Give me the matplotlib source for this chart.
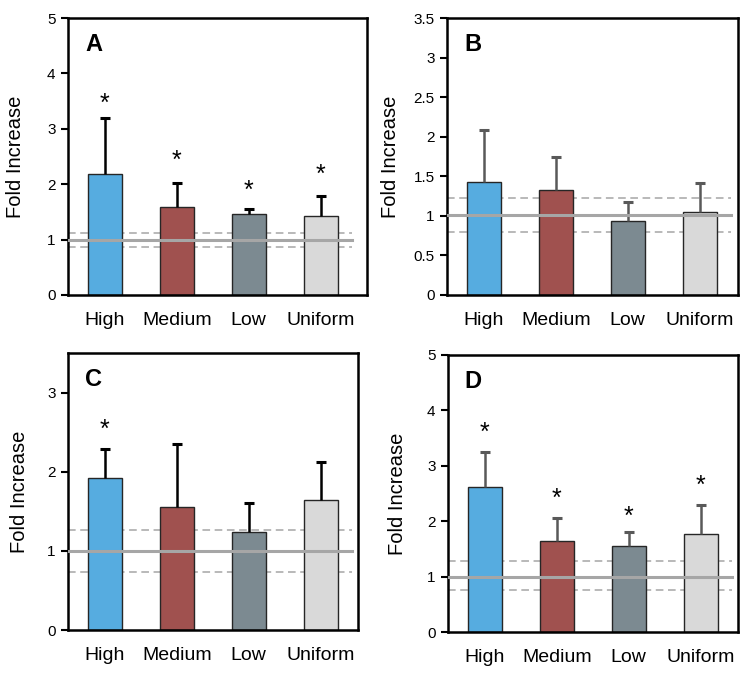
import matplotlib
matplotlib.use("Agg")
import matplotlib.pyplot as plt

plt.rcParams["font.family"] = ["Liberation Sans", "DejaVu Sans"]

categories = ["High", "Medium", "Low", "Uniform"]
colors = ["#56ace0", "#a0514f", "#7c8a91", "#d9d9d9"]

# fold increase means and upper error bar tops
means_a = [2.18, 1.58, 1.46, 1.43]
tops_a = [3.19, 2.02, 1.56, 1.79]
stars_a = [3.45, 2.43, 1.88, 2.16]

means_b = [1.43, 1.33, 0.94, 1.045]
tops_b = [2.09, 1.75, 1.17, 1.42]
stars_b = [None, None, None, None]

means_c = [1.92, 1.55, 1.24, 1.64]
tops_c = [2.29, 2.35, 1.61, 2.12]
stars_c = [2.53, None, None, None]

means_d = [2.62, 1.65, 1.56, 1.76]
tops_d = [3.25, 2.05, 1.80, 2.30]
stars_d = [3.59, 2.41, 2.08, 2.64]

# control level (solid) and its bounds (dashed)
control = {"A": (1.0, 0.86, 1.125), "B": (1.015, 0.79, 1.225),
           "C": (1.0, 0.735, 1.265), "D": (1.0, 0.75, 1.29)}

W, H = 751, 679
panels = [
    # letter, means, tops, stars, rect px (left, top, right, bottom), ymax, yticks, error colour, ylabel x
    ("A", means_a, tops_a, stars_a, (68, 18, 367, 295), 5, [0, 1, 2, 3, 4, 5], "#000000", -0.145),
    ("B", means_b, tops_b, stars_b, (447, 18, 738, 295), 3.5, [0, 0.5, 1, 1.5, 2, 2.5, 3, 3.5], "#595959", -0.16),
    ("C", means_c, tops_c, stars_c, (68, 353, 358, 630), 3.5, [0, 1, 2, 3], "#000000", -0.135),
    ("D", means_d, tops_d, stars_d, (448, 355, 738, 632), 5, [0, 1, 2, 3, 4, 5], "#595959", -0.14),
]

fig = plt.figure(figsize=(W / 100, H / 100), dpi=100)
step = 72.0  # pixels per category

for letter, means, tops, stars, (l, t, r, b), ymax, yticks, ecol, ylx in panels:
    ax = fig.add_axes([l / W, 1 - b / H, (r - l) / W, (b - t) / H])
    x0 = -0.51
    x1 = x0 + (r - l) / step
    xs = list(range(len(categories)))
    ax.bar(xs, means, width=0.47, color=colors, edgecolor="#262626", linewidth=1.0, zorder=2)
    # upper-only error bars
    ax.vlines(xs, means, tops, color=ecol, lw=1.8, zorder=3)
    ax.plot(xs, tops, ls="none", marker="_", markersize=7, markeredgewidth=2.2,
            color=ecol, zorder=3)
    lvl, lo, hi = control[letter]
    hend = x0 + 284 / step
    ax.plot([x0, hend], [lvl, lvl], color="#a6a6a6", lw=2.2, zorder=4)
    ax.plot([x0, hend], [lo, lo], color="#a6a6a6", lw=1.1, ls=(0, (5, 3)), zorder=1)
    ax.plot([x0, hend], [hi, hi], color="#a6a6a6", lw=1.1, ls=(0, (5, 3)), zorder=1)
    for x, s in zip(xs, stars):
        if s is not None:
            ax.text(x, s, "*", ha="center", va="center", fontsize=18, zorder=5)
    ax.text(0.058, 0.945, letter, transform=ax.transAxes, ha="left", va="top",
            fontsize=17, fontweight="bold")
    ax.set_xlim(x0, x1)
    ax.set_ylim(0, ymax)
    ax.set_yticks(yticks)
    ax.set_yticklabels([f"{v:g}" for v in yticks], fontsize=11)
    ax.set_xticks(xs)
    ax.set_xticklabels(categories, fontsize=14)
    ax.tick_params(axis="x", length=0, pad=12)
    ax.tick_params(axis="y", length=5, width=1.5, direction="out", pad=4)
    for sp in ax.spines.values():
        sp.set_linewidth(1.8)
        sp.set_color("black")
    ax.set_ylabel("Fold Increase", fontsize=14.5)
    ax.yaxis.set_label_coords(ylx, 0.5)

fig.savefig("out.png", dpi=100)
